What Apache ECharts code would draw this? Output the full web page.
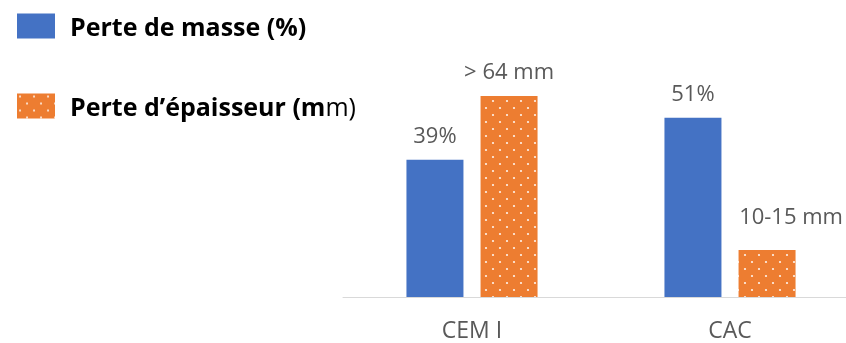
<!DOCTYPE html>
<html><head><meta charset="utf-8">
<script src="https://cdn.jsdelivr.net/npm/echarts@6/dist/echarts.min.js"></script>
<style>html,body{margin:0;padding:0;background:#fff}#c{width:846px;height:343px}</style>
</head><body><div id="c"></div>
<script>
const categories = ['CEM I', 'CAC'];
const massLoss = [39, 51];            // %
const thicknessLoss = [64, 15];       // mm
const massLabels = ['39%', '51%'];
const thicknessLabels = ['> 64 mm', '10-15 mm'];
const seriesNames = ['Perte de masse (%)', 'Perte d\u2019épaisseur (mm)'];

const pat = document.createElement('canvas');
pat.width = 14; pat.height = 14;
const g = pat.getContext('2d');
g.fillStyle = '#ED7D31'; g.fillRect(0, 0, 14, 14);
g.fillStyle = 'rgba(255,255,255,0.9)';
g.beginPath(); g.arc(3, 3, 1.1, 0, Math.PI * 2); g.fill();
g.beginPath(); g.arc(10, 10, 1.1, 0, Math.PI * 2); g.fill();

const chart = echarts.init(document.getElementById('c'));
const labelStyle = {fontFamily: 'Open Sans', fontSize: 22, color: '#595959'};
chart.setOption({
  animation: false,
  legend: {
    orient: 'vertical', left: 12, top: 6,
    itemWidth: 38, itemHeight: 25, itemGap: 50,
    icon: 'rect',
    data: seriesNames,
    formatter: function (n) {
      if (n === seriesNames[1]) return '{b|Perte d\u2019épaisseur (m}{r|m)}';
      return '{b|' + n + '}';
    },
    textStyle: {
      padding: [5, 0, 0, 10], lineHeight: 25,
      rich: {
        b: {fontFamily: 'Open Sans', fontWeight: 'bold', fontSize: 25, color: '#000', lineHeight: 25},
        r: {fontFamily: 'Open Sans', fontWeight: 'normal', fontSize: 25, color: '#000', lineHeight: 25}
      }
    }
  },
  grid: {left: 343, width: 516, top: 47, height: 250, outerBoundsMode: 'none'},
  xAxis: {
    type: 'category', data: categories,
    axisLine: {lineStyle: {color: '#d9d9d9', width: 1}},
    axisTick: {show: false},
    axisLabel: {fontFamily: 'Open Sans', fontSize: 23, color: '#595959', margin: 23}
  },
  yAxis: [
    {type: 'value', min: 0, max: 71.1, show: false, splitLine: {show: false}},
    {type: 'value', min: 0, max: 79.6, show: false, splitLine: {show: false}}
  ],
  series: [
    {
      name: seriesNames[0], type: 'bar', yAxisIndex: 0,
      barWidth: 57, barGap: '30%',
      itemStyle: {color: '#4472C4'},
      label: {show: true, position: 'top', distance: 12, ...labelStyle,
        formatter: p => massLabels[p.dataIndex]},
      data: massLoss
    },
    {
      name: seriesNames[1], type: 'bar', yAxisIndex: 1,
      barWidth: 57, barGap: '30%',
      itemStyle: {color: {image: pat, repeat: 'repeat'}},
      label: {show: true, position: 'top', distance: 12, ...labelStyle,
        formatter: p => thicknessLabels[p.dataIndex]},
      data: [
        {value: thicknessLoss[0]},
        {value: thicknessLoss[1], label: {distance: 21, offset: [24, 0]}}
      ]
    }
  ]
});
</script></body></html>
